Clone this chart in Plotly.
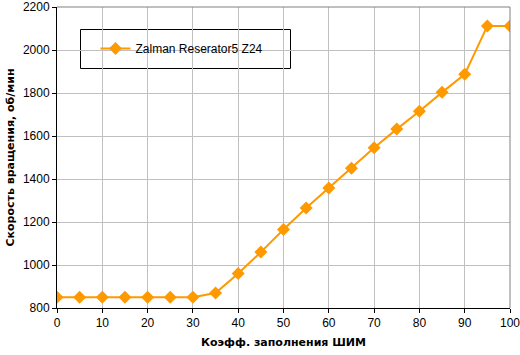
import plotly.graph_objects as go

pwm = [0, 5, 10, 15, 20, 25, 30, 35, 40, 45, 50, 55, 60, 65, 70, 75, 80, 85, 90, 95, 100]
rpm = [850, 850, 850, 850, 850, 850, 850, 870, 960, 1060, 1165, 1265, 1358, 1450, 1545, 1632, 1715, 1803, 1887, 2112, 2112]
series_name = "Zalman Reserator5 Z24"
x_title = "Коэфф. заполнения ШИМ"
y_title = "Скорость вращения, об/мин"

color = "#FF9900"
font = "Liberation Sans, Arial, sans-serif"
title_font = "DejaVu Sans, Verdana, sans-serif"

top, bottom_px = 7, 308
ph = bottom_px - top

fig = go.Figure()
fig.add_trace(go.Scatter(
    x=pwm, y=rpm, mode="lines+markers", name=series_name,
    line=dict(color=color, width=2),
    marker=dict(symbol="diamond", size=10, color=color),
))

fig.update_layout(
    width=520, height=355,
    margin=dict(l=57, r=10, t=top, b=355 - bottom_px),
    paper_bgcolor="white", plot_bgcolor="white",
    font=dict(family=font, size=12, color="black"),
    showlegend=True,
    legend=dict(x=0.085, y=(bottom_px - 48.5) / ph, xanchor="left", yanchor="middle",
                bgcolor="rgba(0,0,0,0)", borderwidth=0,
                font=dict(family=font, size=12, color="black"),
                itemwidth=30),
    shapes=[dict(type="rect", xref="paper", yref="paper",
                 x0=(80.5 - 57) / 453, x1=(290.5 - 57) / 453,
                 y0=(bottom_px - 68.5) / ph, y1=(bottom_px - 29.5) / ph,
                 line=dict(color="black", width=1), fillcolor="white", layer="below")],
)
fig.update_xaxes(
    range=[0, 100], tickmode="linear", tick0=0, dtick=10,
    showgrid=True, gridcolor="#C0C0C0", gridwidth=1,
    showline=True, linecolor="black", linewidth=1, mirror=False,
    ticks="outside", ticklen=4, tickcolor="black",
    zeroline=False, ticklabeloverflow="allow", automargin=False,
    title=dict(text="<b>" + x_title + "</b>", font=dict(family=title_font, size=11), standoff=8),
)
fig.update_yaxes(
    range=[800, 2200], tickmode="linear", tick0=800, dtick=200,
    showgrid=True, gridcolor="#C0C0C0", gridwidth=1,
    showline=True, linecolor="black", linewidth=1,
    ticks="outside", ticklen=4, tickcolor="black",
    zeroline=False, ticklabeloverflow="allow", automargin=False,
    title=dict(text="<b>" + y_title + "</b>", font=dict(family=title_font, size=11), standoff=6),
)
# grey border on top and right
fig.add_shape(type="line", xref="paper", yref="paper", x0=0, x1=1, y0=1, y1=1,
              line=dict(color="#808080", width=1))
fig.add_shape(type="line", xref="paper", yref="paper", x0=1, x1=1, y0=0, y1=1,
              line=dict(color="#808080", width=1))

fig.write_html("out.html")
